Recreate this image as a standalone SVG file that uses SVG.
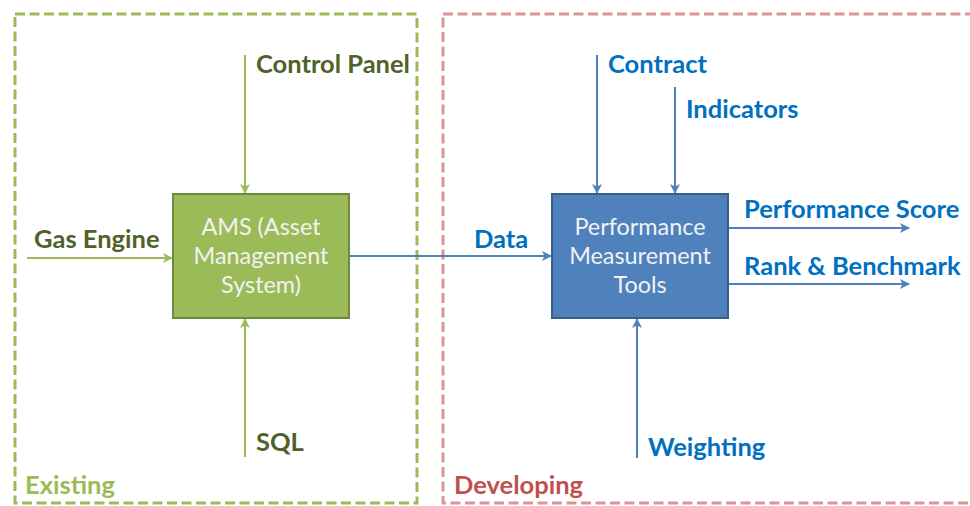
<svg xmlns="http://www.w3.org/2000/svg" width="970" height="506" viewBox="0 0 970 506">
<defs>
<marker id="ag" markerWidth="10" markerHeight="10" refX="9" refY="5" orient="auto" markerUnits="userSpaceOnUse">
<path d="M0,0 L10,5 L0,10 L2.5,5 Z" fill="#9BBB59"/>
</marker>
<marker id="ab" markerWidth="10" markerHeight="10" refX="9" refY="5" orient="auto" markerUnits="userSpaceOnUse">
<path d="M0,0 L10,5 L0,10 L2.5,5 Z" fill="#4F81BD"/>
</marker>
</defs>
<style>
.frame{fill:none;stroke-width:3;stroke-dasharray:10 4.5}
.lbl{font-family:Lato,"Open Sans","Liberation Sans",sans-serif;font-weight:bold;font-size:25.5px}
.box{font-family:Lato,"Open Sans","Liberation Sans",sans-serif;font-size:23.4px;fill:#F2F2F2;text-anchor:middle}
.g{fill:#4F6228}
.b{fill:#0070C0}
.cg{stroke:#9BBB59;stroke-width:2;fill:none}
.cb{stroke:#4F81BD;stroke-width:2;fill:none}
</style>
<g id="existing">
<rect class="frame" x="15" y="14" width="402" height="489" stroke="#9BBB59"/>
<text class="lbl" x="25" y="494" fill="#9BBB59">Existing</text>
</g>
<g id="developing">
<rect class="frame" x="443" y="14" width="540" height="489" stroke="#D99694"/>
<text class="lbl" x="454" y="494" fill="#C0504D">Developing</text>
</g>
<g id="connectors">
<line class="cg" x1="245" y1="55" x2="245" y2="193" marker-end="url(#ag)"/>
<line class="cg" x1="27" y1="258" x2="172" y2="258" marker-end="url(#ag)"/>
<line class="cg" x1="245" y1="457" x2="245" y2="319" marker-end="url(#ag)"/>
<line class="cb" x1="350" y1="256" x2="551" y2="256" marker-end="url(#ab)"/>
<line class="cb" x1="597" y1="55" x2="597" y2="193" marker-end="url(#ab)"/>
<line class="cb" x1="675" y1="87" x2="675" y2="193" marker-end="url(#ab)"/>
<line class="cb" x1="637" y1="458" x2="637" y2="319" marker-end="url(#ab)"/>
<line class="cb" x1="729" y1="228" x2="909" y2="228" marker-end="url(#ab)"/>
<line class="cb" x1="729" y1="284" x2="909" y2="284" marker-end="url(#ab)"/>
</g>
<g id="ams">
<rect x="173" y="194" width="176" height="124" fill="#9BBB59" stroke="#71893F" stroke-width="2"/>
<text class="box" x="261" y="235">AMS (Asset</text>
<text class="box" x="261" y="264">Management</text>
<text class="box" x="261" y="293">System)</text>
</g>
<g id="pmt">
<rect x="552" y="194" width="176" height="124" fill="#4F81BD" stroke="#385D8A" stroke-width="2"/>
<text class="box" x="640" y="235">Performance</text>
<text class="box" x="640" y="264">Measurement</text>
<text class="box" x="640" y="293">Tools</text>
</g>
<g id="labels">
<text class="lbl g" x="256" y="73">Control Panel</text>
<text class="lbl g" x="34" y="248">Gas Engine</text>
<text class="lbl g" x="256" y="451">SQL</text>
<text class="lbl b" x="474" y="248">Data</text>
<text class="lbl b" x="608" y="73">Contract</text>
<text class="lbl b" x="686" y="118">Indicators</text>
<text class="lbl b" x="648" y="456">Weighting</text>
<text class="lbl b" x="744" y="218">Performance Score</text>
<text class="lbl b" x="744" y="275">Rank &amp; Benchmark</text>
</g>
</svg>
